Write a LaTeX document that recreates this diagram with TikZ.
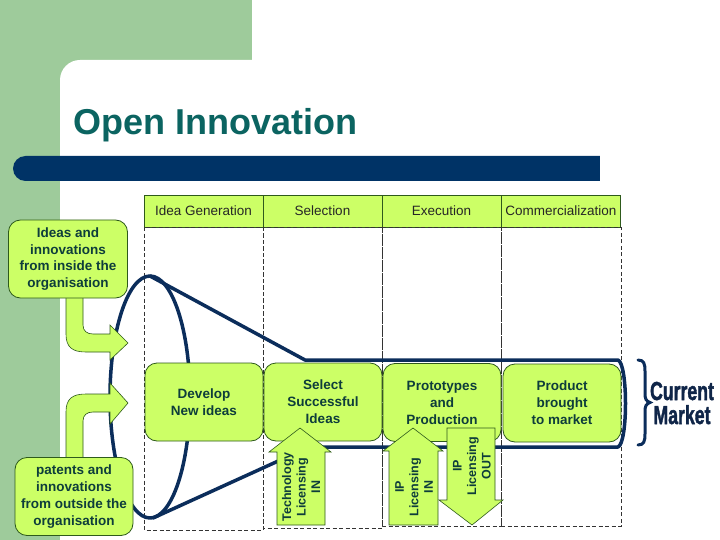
\documentclass[tikz,border=0pt]{standalone}
\usepackage{fontspec}
\setmainfont{Liberation Sans}
\newfontfamily\heavyfont[BoldFeatures={FakeBold=2}]{Liberation Sans}
\definecolor{bggreen}{HTML}{9ECB9B}
\definecolor{barnavy}{HTML}{003366}
\definecolor{fnavy}{HTML}{0B2D5B}
\definecolor{boxfill}{HTML}{CCFF66}
\definecolor{boxline}{HTML}{2E5A1C}
\definecolor{boxtext}{HTML}{0E3D3B}
\definecolor{titlecol}{HTML}{0B6461}
\definecolor{marketcol}{HTML}{0F2548}
\tikzset{
  hdr/.style={draw=boxline, fill=boxfill, line width=0.8pt, minimum width=119pt, minimum height=32pt, inner sep=0pt, font=\fontsize{13.5}{16}\selectfont, text=black!85},
  rowbox/.style={draw=boxline, fill=boxfill, line width=0.8pt, rounded corners=12pt, minimum width=118pt, minimum height=78pt, inner sep=0pt, align=center, font=\fontsize{13.5}{17}\selectfont\bfseries, text=boxtext},
  sidebox/.style={draw=boxline, fill=boxfill, line width=0.8pt, rounded corners=12pt, minimum height=78pt, inner sep=0pt, align=center, font=\fontsize{13.5}{16.7}\selectfont\bfseries, text=boxtext},
  greenarrow/.style={draw=boxline, fill=boxfill, line width=0.6pt, line join=miter},
  arrtext/.style={rotate=90, align=center, inner sep=0pt, font=\fontsize{12.5}{14.5}\selectfont\bfseries, text=boxtext},
  col/.style={draw=black!80, dashed, dash pattern=on 4pt off 2.5pt, line width=0.7pt},
  funnel/.style={draw=fnavy, line width=3.5pt, line join=round, line cap=round},
  marketword/.style={inner sep=0pt, text=marketcol, font=\fontsize{26}{26}\selectfont\heavyfont\bfseries}
}
\begin{document}
\begin{tikzpicture}[x=1pt,y=-1pt]
\useasboundingbox (0,0) rectangle (720,540);
% background
\fill[bggreen] (0,0) rectangle (252,60);
\fill[bggreen] (0,0) rectangle (60,540);
\fill[bggreen] (59,59) rectangle (90,90);
\fill[white, rounded corners=20pt] (60,60) rectangle (760,600);
\fill[white] (60,120) rectangle (720,540);
\fill[white] (120,60) rectangle (720,540);
% title
\node[anchor=base west, inner sep=0pt, text=titlecol, font=\fontsize{36}{40}\selectfont\bfseries] (title) at (73,135) {Open Innovation};
% bar
\fill[barnavy, rounded corners=12.5pt] (13,156) rectangle (620,181);
\fill[barnavy] (580,156) rectangle (600,181);
\fill[white] (600,150) rectangle (640,190);
% header
\node[hdr] (h1) at (203.5,211) {Idea Generation};
\node[hdr] (h2) at (322.5,211) {Selection};
\node[hdr] (h3) at (441.5,211) {Execution};
\node[hdr] (h4) at (561,211) {Commercialization};
% dashed columns
\draw[col] (144,227) rectangle (263,530);
\draw[col] (263,227) rectangle (382,528);
\draw[col] (382,227) rectangle (501,526);
\draw[col] (501,227) rectangle (621,526);
% funnel
\coordinate (ftop) at (150,276);
\coordinate (fbot) at (153,518);
\coordinate (tubeTL) at (305,360);
\coordinate (tubeBL) at (309,447);
\coordinate (tubeTR) at (618,360);
\coordinate (tubeBR) at (618,447);
\draw[funnel] (150,397) ellipse [x radius=40, y radius=121];
\draw[funnel] (ftop) -- (tubeTL) -- (tubeTR) .. controls (628,364) and (628,443) .. (tubeBR) -- (tubeBL) -- (fbot);
% curved arrows
\draw[greenarrow] (66,295) -- (66,334) .. controls (66,347) and (72,352) .. (86,352) -- (110,352) -- (110,360) -- (128,343) -- (110,325) -- (110,334) -- (93,334) .. controls (87,334) and (83,331) .. (83,325) -- (83,295);
\draw[greenarrow] (66,460) -- (66,412) .. controls (66,399) and (72,394) .. (86,394) -- (110,394) -- (110,383) -- (128,403) -- (110,424) -- (110,412) -- (93,412) .. controls (87,412) and (83,415) .. (83,421) -- (83,460);
% side boxes
\node[sidebox, minimum width=119pt] (inside) at (68,259) {Ideas and\\innovations\\from inside the\\organisation};
\node[sidebox, minimum width=118pt] (outside) at (74,496.5) {patents and\\innovations\\from outside the\\organisation};
% row boxes
\node[rowbox] (dev) at (204,402) {Develop\\New ideas};
\node[rowbox] (sel) at (323,402) {Select\\Successful\\Ideas};
\node[rowbox] (proto) at (442,402.5) {Prototypes\\and\\Production};
\node[rowbox] (prod) at (562,403) {Product\\brought\\to market};
% vertical arrows
\draw[greenarrow] (277,525) -- (277,452) -- (269,452) -- (300,428) -- (331,452) -- (325,452) -- (325,525) -- cycle;
\node[arrtext] (tech) at (301,487) {Technology\\Licensing\\IN};
\draw[greenarrow] (389,525) -- (389,451) -- (383,451) -- (413,428) -- (443,451) -- (438,451) -- (438,525) -- cycle;
\node[arrtext] (ipin) at (414,487) {IP\\Licensing\\IN};
\draw[greenarrow] (447,428) -- (495,428) -- (495,500) -- (503,500) -- (472,525) -- (439,500) -- (447,500) -- cycle;
\node[arrtext] (ipout) at (472,466) {IP\\Licensing\\OUT};
% brace
\draw[fnavy, line width=3pt, line cap=round] (638,360) .. controls (644,360) and (645,364) .. (645,371) -- (645,393) .. controls (645,399) and (646,401) .. (650,402.5) .. controls (646,404) and (645,406) .. (645,412) -- (645,434) .. controls (645,441) and (644,445) .. (638,445);
% current market
\node[marketword, anchor=base] (current) at (682,400) {\scalebox{0.68}[1]{Current}};
\node[marketword, anchor=base] (market) at (682,424) {\scalebox{0.68}[1]{Market}};
\end{tikzpicture}
\end{document}
